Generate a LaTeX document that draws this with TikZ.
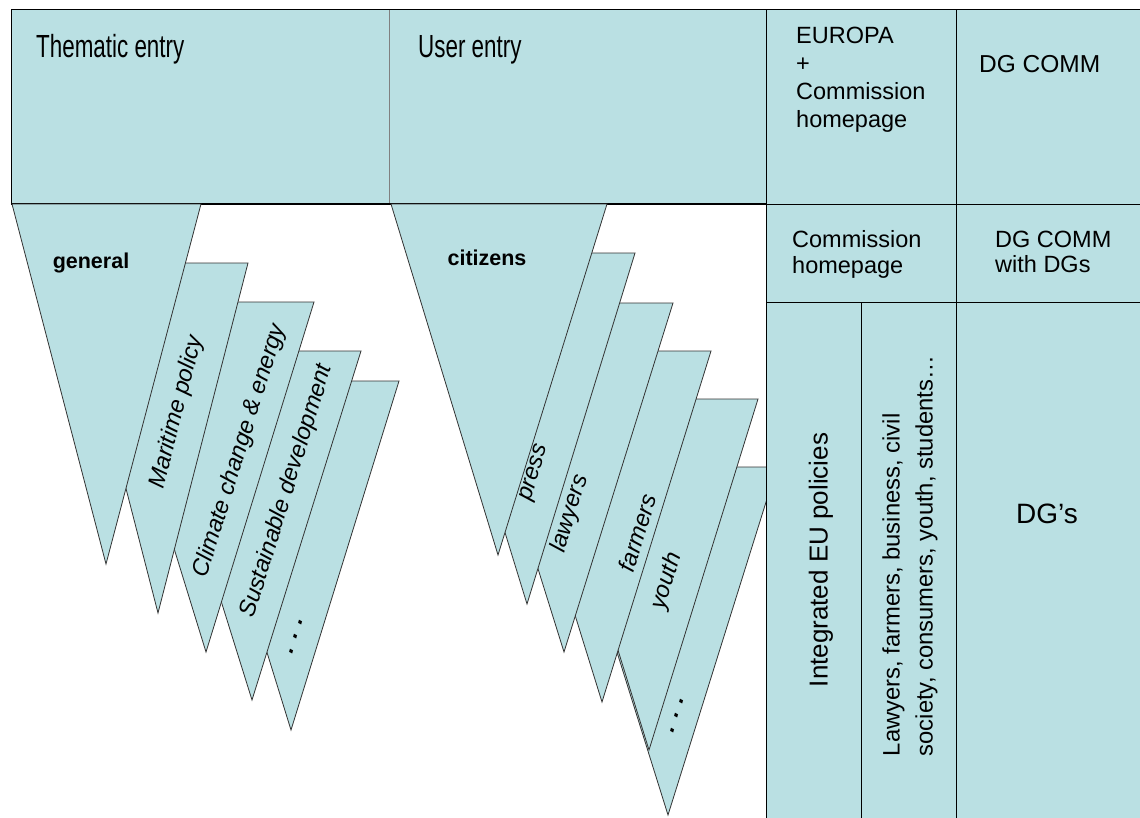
\documentclass[tikz,border=0pt]{standalone}
\usepackage{fontspec}
\setmainfont{Liberation Sans}
\newfontfamily\narrowsans[FakeStretch=0.7]{Liberation Sans}
\definecolor{cellblue}{RGB}{186,224,227}
\begin{document}
\begin{tikzpicture}[x=1pt,y=-1pt,
  cell/.style={draw=black, line width=1pt, fill=cellblue},
  tri/.style={draw=black!80, line width=0.8pt, fill=cellblue, line join=miter},
  lbl/.style={inner sep=0pt, font=\fontsize{23.5}{28}\selectfont},
  head/.style={inner sep=0pt, font=\narrowsans\fontsize{32}{38}\selectfont},
  tag/.style={inner sep=0pt, font=\bfseries\fontsize{21.5}{26}\selectfont},
  slant/.style={inner sep=0pt, font=\itshape\fontsize{23.5}{28}\selectfont},
  more/.style={inner sep=0pt, font=\bfseries\itshape\fontsize{23.5}{28}\selectfont},
]
\clip (0,0) rectangle (1140,817);
\fill[white] (0,0) rectangle (1140,817);

% header band over the two entry columns
\fill[cellblue] (11,9) rectangle (766,204);
\draw[gray, line width=0.6pt] (389,9) -- (389,204);
\draw[black, line width=1pt] (11,204) -- (11,9) -- (1150,9);
\draw[black, line width=1.4pt] (11,204) -- (766,204);

% thematic entry fan, drawn back to front
\draw[tri] (183,381) -- (399,381) -- (291,730) -- cycle;
\draw[tri] (143,351) -- (361,351) -- (252,700) -- cycle;
\draw[tri] (98,302) -- (314,302) -- (206,652) -- cycle;
\draw[tri] (68,263) -- (248,263) -- (158,613) -- cycle;
\draw[tri] (12,204) -- (201,204) -- (106,564) -- cycle;

% user entry fan, drawn back to front
\draw[tri] (559,467) -- (777,467) -- (668,815) -- cycle;
\draw[tri] (540,399) -- (758,399) -- (649,750) -- cycle;
\draw[tri] (493,351) -- (711,351) -- (602,702) -- cycle;
\draw[tri] (455,303) -- (673,303) -- (564,652) -- cycle;
\draw[tri] (419,253) -- (635,253) -- (527,604) -- cycle;
\draw[tri] (391,204) -- (607,204) -- (498,555) -- cycle;

% right-hand columns
\draw[cell] (766,9) rectangle (956,204);
\draw[cell] (956,9) rectangle (1150,204);
\draw[cell] (766,204) rectangle (956,302);
\draw[cell] (956,204) rectangle (1150,302);
\draw[cell] (766,302) rectangle (861,830);
\draw[cell] (861,302) rectangle (956,830);
\draw[cell] (956,302) rectangle (1150,830);

% headings (multi-line nodes are anchored at their last baseline)
\node[head, anchor=base west] (thematic) at (36,57) {Thematic entry};
\node[head, anchor=base west] (user) at (418,57) {User entry};
\node[lbl, align=left, anchor=base west] (europa) at (796,127) {EUROPA\\+\\Commission\\homepage};
\node[lbl, font=\fontsize{24.5}{28}\selectfont, anchor=base west] (dgcomm) at (979,72) {DG COMM};
\node[lbl, align=left, anchor=base west, font=\fontsize{23.5}{26}\selectfont] (homepage) at (792,273) {Commission\\homepage};
\node[lbl, align=left, anchor=base west, font=\fontsize{23.5}{25}\selectfont] (dgcommdg) at (995,272) {DG COMM\\with DGs};
\node[lbl, rotate=90, font=\fontsize{26}{30}\selectfont] (integrated) at (821,560) {Integrated EU policies};
\node[lbl, rotate=90, align=left, font=\fontsize{23.8}{33}\selectfont] (audiences) at (910,556) {Lawyers, farmers, business, civil\\society, consumers, youth, students\dots};
\node[lbl, font=\fontsize{28}{32}\selectfont, anchor=base] (dgs) at (1047,523) {DG’s};

% thematic labels
\node[tag] (general) at (91,263) {general};
\node[slant, rotate=75.6] (maritime) at (177,412) {Maritime policy};
\node[slant, rotate=72.85] (climate) at (240,451) {Climate change \& energy};
\node[slant, rotate=72.85] (sustain) at (287,491) {Sustainable development};
\node[more, rotate=72.85] (moretopics) at (296,636) {. . .};

% user labels
\node[tag] (citizens) at (487,258) {citizens};
\node[slant, rotate=72.85] (press) at (535,473) {press};
\node[slant, rotate=72.85] (lawyers) at (570,514) {lawyers};
\node[slant, rotate=72.85] (farmers) at (637,533) {farmers};
\node[slant, rotate=72.85] (youth) at (667,581) {youth};
\node[more, rotate=72.85] (moreusers) at (677,715) {. . .};
\end{tikzpicture}
\end{document}
